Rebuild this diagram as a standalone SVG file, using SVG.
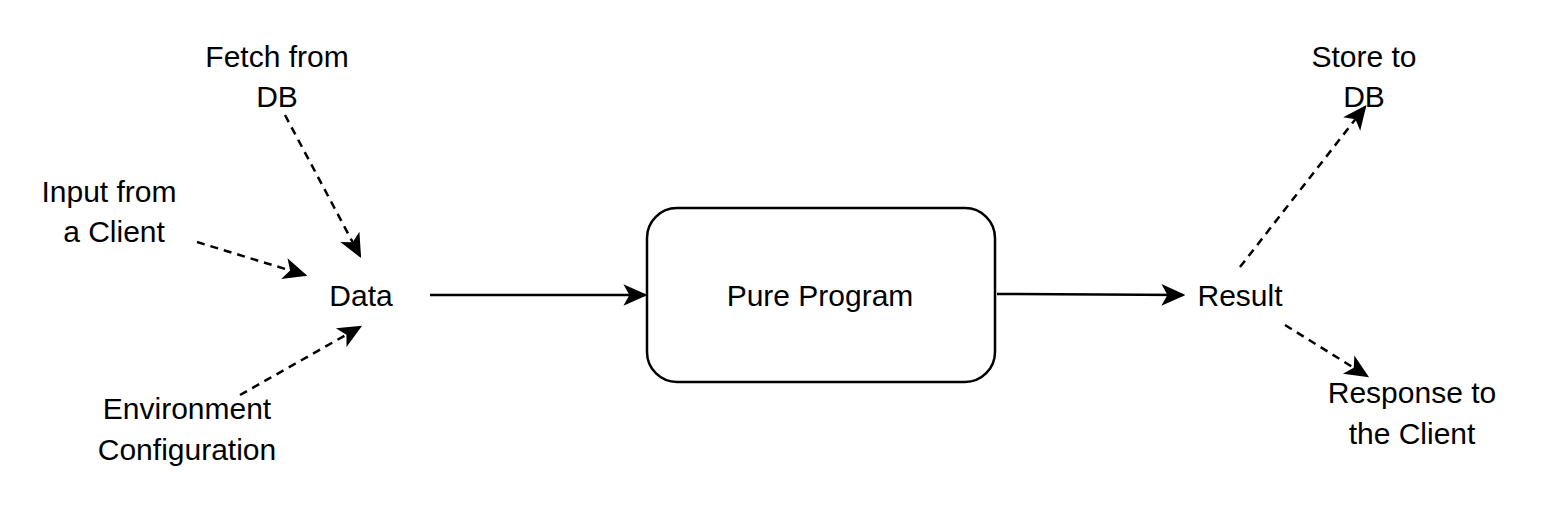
<svg xmlns="http://www.w3.org/2000/svg" width="1544" height="526" viewBox="0 0 1544 526">
<style>
text{font-family:"Liberation Sans",Arial,sans-serif;font-size:30px;fill:#000;text-anchor:middle}
.c{stroke:#000;stroke-width:2.5;fill:none;marker-end:url(#a)}
.d{stroke-dasharray:8 6}
</style>
<defs><marker id="a" viewBox="0 0 20 20" refX="18" refY="10" markerWidth="24" markerHeight="24" markerUnits="userSpaceOnUse" orient="auto"><path d="M0,1 L20,10 L0,19 L5,10 Z" fill="#000"/></marker></defs>
<rect width="1544" height="526" fill="#fff"/>
<g id="connectors">
<line class="c d" x1="285" y1="115" x2="360" y2="256"/>
<line class="c d" x1="197" y1="242" x2="305" y2="275"/>
<line class="c d" x1="240" y1="395" x2="360" y2="327"/>
<line class="c" x1="430" y1="295" x2="645" y2="295"/>
<line class="c" x1="997" y1="294" x2="1183" y2="295"/>
<line class="c d" x1="1240" y1="267" x2="1365" y2="107"/>
<line class="c d" x1="1285" y1="325" x2="1367" y2="376"/>
</g>
<g id="fetch"><text x="277" y="67">Fetch from</text><text x="277" y="107">DB</text></g>
<g id="input"><text x="109" y="202">Input from</text><text x="114" y="242">a Client</text></g>
<g id="env"><text x="187" y="419">Environment</text><text x="187" y="460">Configuration</text></g>
<g id="data"><text x="361" y="306">Data</text></g>
<g id="program"><rect x="647" y="208" width="348" height="174" rx="30" fill="#fff" stroke="#000" stroke-width="2.5"/><text x="820" y="306">Pure Program</text></g>
<g id="result"><text x="1240" y="306">Result</text></g>
<g id="store"><text x="1364" y="67">Store to</text><text x="1364" y="107">DB</text></g>
<g id="response"><text x="1412" y="403">Response to</text><text x="1412" y="444">the Client</text></g>
</svg>
